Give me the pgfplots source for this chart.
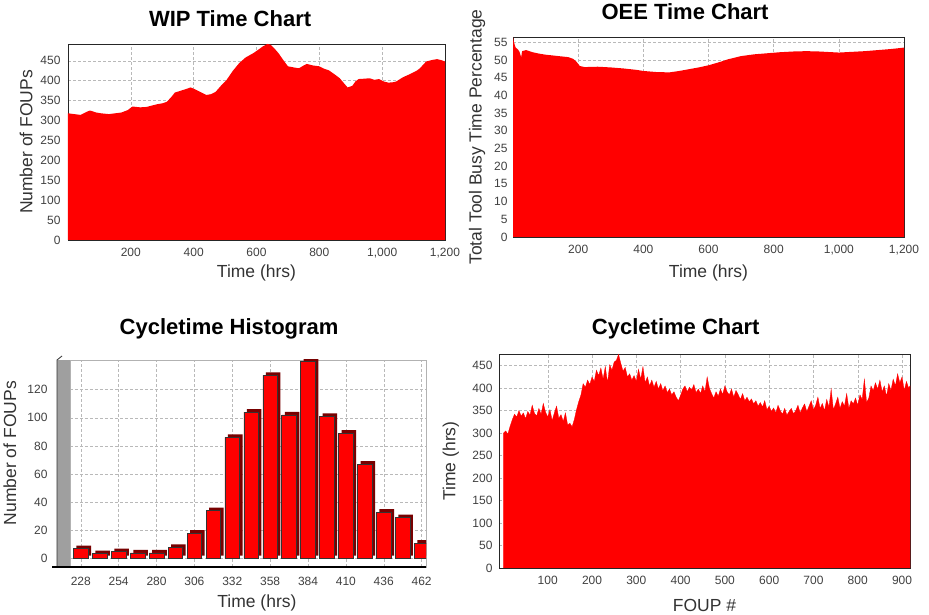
\documentclass[border=0pt]{standalone}
\usepackage{fontspec}
\setmainfont{Liberation Sans}
\usepackage{pgfplots}
\pgfplotsset{compat=1.18}
\definecolor{barred}{RGB}{255,0,0}
\definecolor{bardark}{RGB}{120,0,0}

\pgfplotsset{
  panel/.style={
    scale only axis, anchor=south west,
    grid=major, grid style={densely dashed, gray!55},
    major tick length=0pt,
    tick label style={font=\fontsize{12}{12}\selectfont, text=black!75},
    /pgf/number format/assume math mode=true,
    /pgf/number format/1000 sep={,},
    title style={font=\fontsize{22}{24}\selectfont\bfseries, anchor=center, yshift=0pt},
    label style={font=\fontsize{17.5}{19}\selectfont, text=black!80},
    xlabel style={anchor=center},
    ylabel style={anchor=center},
    xticklabel style={yshift=-5pt},
    axis line style={black!85},
  },
}

\begin{document}
\begin{tikzpicture}[x=1pt,y=1pt]
\path[use as bounding box] (0,0) rectangle (929,615);

% ---- WIP time chart
\begin{axis}[panel,
  at={(68pt,375pt)}, width=377pt, height=196pt,
  xmin=0, xmax=1200, ymin=0, ymax=492,
  xtick={200,400,...,1200}, ytick={0,50,...,450},
  yticklabel style={xshift=-4pt},
  title={WIP Time Chart}, title style={at={(axis description cs:0.43,1.10)}},
  xlabel={Time (hrs)}, xlabel style={at={(axis description cs:0.5,-0.168)}},
  ylabel={Number of FOUPs}, ylabel style={at={(axis description cs:-0.111,0.5)}},
]
\addplot[fill=barred, draw=none] coordinates {
(0,318) (20,316) (40,314) (60,322) (70,325) (90,320) (105,318) (130,316)
(150,318) (170,320) (190,326) (205,335) (230,333) (250,334) (270,338)
(285,341) (300,343) (315,347) (330,360) (340,370) (360,375) (380,380)
(390,383) (405,378) (420,372) (440,364) (455,366) (470,372) (490,390)
(505,402) (525,425) (545,444) (565,458) (590,469) (610,480) (620,486)
(635,492) (645,490) (660,478) (670,469) (685,452) (700,436) (720,433)
(735,431) (750,438) (760,442) (780,438) (800,436) (815,430) (830,426)
(850,415) (865,406) (880,392) (890,383) (905,387) (915,398) (925,404)
(945,405) (960,406) (975,402) (990,404) (1005,398) (1020,395) (1035,396)
(1045,398) (1065,408) (1090,417) (1110,425) (1120,431) (1140,448)
(1160,452) (1175,454) (1190,451) (1200,448)
} \closedcycle;
\end{axis}

% ---- OEE time chart
\begin{axis}[panel,
  at={(513pt,378pt)}, width=391pt, height=200pt,
  xmin=0, xmax=1200, ymin=0, ymax=56.5,
  xtick={200,400,...,1200}, ytick={0,5,...,55},
  yticklabel style={xshift=-2pt},
  title={OEE Time Chart}, title style={at={(axis description cs:0.44,1.095)}},
  xlabel={Time (hrs)}, xlabel style={at={(axis description cs:0.5,-0.18)}},
  ylabel={Total Tool Busy Time Percentage}, ylabel style={at={(axis description cs:-0.092,0.5)}},
]
\addplot[fill=barred, draw=none] coordinates {
(0,56.5) (3,55) (8,53.5) (15,53) (20,52.3) (25,50.8) (28,52.5) (40,52.8)
(60,52.2) (80,51.8) (100,51.5) (130,51.2) (150,51) (170,50.8) (185,50.3)
(195,49.5) (205,48.3) (220,48) (260,48.1) (300,47.9) (340,47.6) (380,47.2)
(400,46.9) (440,46.6) (480,46.5) (510,46.9) (540,47.4) (570,47.9) (600,48.5)
(630,49.3) (660,50.2) (700,51.1) (740,51.6) (780,51.9) (820,52.2) (860,52.4)
(900,52.5) (940,52.4) (980,52.2) (1000,52.1) (1040,52.3) (1080,52.5)
(1120,52.8) (1160,53.1) (1200,53.5)
} \closedcycle;
\end{axis}

% ---- Cycletime histogram
\begin{axis}[panel,
  at={(70pt,48pt)}, width=356pt, height=207pt,
  xmin=220.6, xmax=465, ymin=-6, ymax=141,
  xtick={228,254,...,462}, ytick={0,20,...,120},
  axis line style={gray!60},
  yticklabel style={xshift=-19pt},
  xticklabel style={yshift=-2pt},
  title={Cycletime Histogram}, title style={at={(axis description cs:0.447,1.12)}},
  xlabel={Time (hrs)}, xlabel style={at={(axis description cs:0.525,-0.174)}},
  ylabel={Number of FOUPs}, ylabel style={at={(axis description cs:-0.169,0.55)}},
]
\addplot[ybar, bar width=10, bar shift=0pt, fill=bardark, draw=none,
  xshift=3pt, yshift=3pt] coordinates {
(228,7) (241,3.5) (254,5) (267,4) (280,4) (293,8) (306,18) (319,34) (332,86)
(345,104) (358,130) (371,102) (384,140) (397,101) (410,89) (423,67) (436,33)
(449,29) (462,11)
};
\addplot[ybar, bar width=10, bar shift=0pt, fill=barred, draw=black!80,
  line width=0.6pt] coordinates {
(228,7) (241,3.5) (254,5) (267,4) (280,4) (293,8) (306,18) (319,34) (332,86)
(345,104) (358,130) (371,102) (384,140) (397,101) (410,89) (423,67) (436,33)
(449,29) (462,11)
};
\end{axis}
\fill[gray!75] (57,48) rectangle (70,255);
\draw[black!80, line width=0.8pt] (57,48) -- (57,255) -- (62,259);
\draw[black, line width=1.6pt] (52,48) -- (426,48);

% ---- Cycletime chart
\begin{axis}[panel,
  at={(499pt,47pt)}, width=411pt, height=214pt,
  xmin=-10, xmax=918, ymin=0, ymax=476,
  xtick={100,200,...,900}, ytick={0,50,...,450},
  yticklabel style={xshift=-3pt},
  title={Cycletime Chart}, title style={at={(axis description cs:0.43,1.09)}},
  xlabel={FOUP \#}, xlabel style={at={(axis description cs:0.5,-0.173)}},
  ylabel={Time (hrs)}, ylabel style={at={(axis description cs:-0.117,0.5)}},
]
\addplot[fill=barred, draw=barred, line width=0.3pt] coordinates {
(0,300) (5,305) (10,298) (15,315) (20,330) (25,342) (30,336) (35,350)
(40,338) (45,345) (50,332) (55,348) (60,340) (65,362) (70,344) (75,338)
(80,355) (85,342) (90,366) (95,347) (100,336) (105,352) (110,328) (115,345)
(120,360) (125,333) (130,341) (135,326) (140,345) (145,318) (150,322)
(155,314) (160,330) (165,352) (170,370) (175,385) (180,410) (185,402)
(190,418) (195,408) (200,425) (205,415) (210,440) (215,428) (220,445)
(225,420) (230,448) (235,412) (240,452) (245,440) (250,458) (255,462)
(260,475) (265,455) (270,438) (275,446) (280,425) (285,432) (290,418)
(295,428) (300,415) (305,442) (310,420) (315,448) (320,412) (325,425)
(330,405) (335,418) (340,402) (345,415) (350,398) (355,410) (360,395)
(365,405) (370,390) (375,398) (380,385) (385,392) (390,380) (395,372)
(400,384) (405,398) (410,405) (415,392) (420,402) (425,396) (430,408)
(435,390) (440,398) (445,388) (450,405) (455,392) (460,425) (465,400)
(470,388) (475,378) (480,392) (485,382) (490,398) (495,386) (500,405)
(505,392) (510,385) (515,398) (520,380) (525,395) (530,386) (535,375)
(540,388) (545,372) (550,380) (555,370) (560,376) (565,365) (570,372)
(575,360) (580,368) (585,358) (590,372) (595,352) (600,360) (605,348)
(610,356) (615,345) (620,362) (625,350) (630,342) (635,355) (640,340)
(645,348) (650,355) (655,343) (660,350) (665,362) (670,345) (675,356)
(680,365) (685,348) (690,360) (695,372) (700,352) (705,362) (710,380)
(715,355) (720,366) (725,350) (730,375) (735,358) (740,398) (745,352)
(750,365) (755,380) (760,355) (765,370) (770,360) (775,388) (780,355)
(785,372) (790,365) (795,378) (800,362) (805,385) (810,375) (815,420)
(820,368) (825,378) (830,405) (835,395) (840,412) (845,398) (850,418)
(855,392) (860,405) (865,382) (870,410) (875,395) (880,420) (885,405)
(890,432) (895,412) (900,425) (905,395) (910,415) (915,400) (918,405)
} \closedcycle;
\end{axis}
\end{tikzpicture}
\end{document}
